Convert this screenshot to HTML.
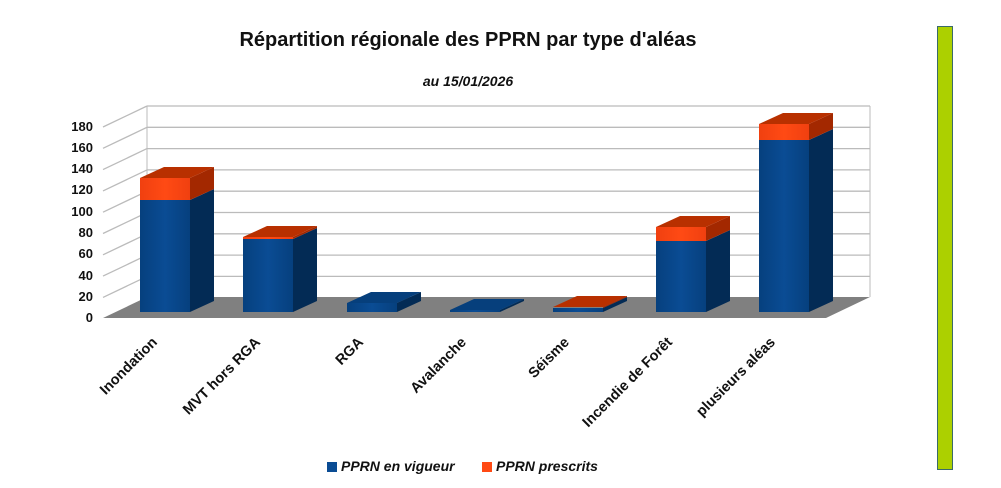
<!DOCTYPE html>
<html><head><meta charset="utf-8"><style>
html,body{margin:0;padding:0;background:#fff;}
svg{display:block;}
text{font-family:"Liberation Sans",sans-serif;font-weight:bold;fill:#111;}
</style></head><body>
<svg width="1001" height="488" viewBox="0 0 1001 488" xmlns="http://www.w3.org/2000/svg">
<defs>
<linearGradient id="bf" x1="0" x2="1" y1="0" y2="0">
<stop offset="0" stop-color="#06407e"/><stop offset="0.5" stop-color="#0a4c94"/><stop offset="1" stop-color="#06407e"/></linearGradient>
<linearGradient id="of" x1="0" x2="1" y1="0" y2="0">
<stop offset="0" stop-color="#f04010"/><stop offset="0.5" stop-color="#ff4a14"/><stop offset="1" stop-color="#f04010"/></linearGradient>
</defs>
<text x="468" y="46" font-size="20" text-anchor="middle">Répartition régionale des PPRN par type d'aléas</text>
<text x="468" y="86" font-size="14" font-style="italic" text-anchor="middle">au 15/01/2026</text>
<line x1="147" y1="106" x2="147" y2="297" stroke="#bbb"/>
<line x1="870" y1="106" x2="870" y2="297" stroke="#bbb"/>
<g stroke="#bbb" stroke-width="1.3">
<line x1="147" y1="106" x2="870" y2="106"/><line x1="103" y1="127" x2="147" y2="106"/>
<line x1="147" y1="127.3" x2="870" y2="127.3"/><line x1="103" y1="148.3" x2="147" y2="127.3"/>
<line x1="147" y1="148.6" x2="870" y2="148.6"/><line x1="103" y1="169.6" x2="147" y2="148.6"/>
<line x1="147" y1="169.9" x2="870" y2="169.9"/><line x1="103" y1="190.9" x2="147" y2="169.9"/>
<line x1="147" y1="191.2" x2="870" y2="191.2"/><line x1="103" y1="212.2" x2="147" y2="191.2"/>
<line x1="147" y1="212.5" x2="870" y2="212.5"/><line x1="103" y1="233.5" x2="147" y2="212.5"/>
<line x1="147" y1="233.8" x2="870" y2="233.8"/><line x1="103" y1="254.8" x2="147" y2="233.8"/>
<line x1="147" y1="255.1" x2="870" y2="255.1"/><line x1="103" y1="276.1" x2="147" y2="255.1"/>
<line x1="147" y1="276.4" x2="870" y2="276.4"/><line x1="103" y1="297.4" x2="147" y2="276.4"/>
</g>
<polygon points="103,318 147,297 870,297 826,318" fill="#808080"/>
<g font-size="13" text-anchor="end">
<text x="93" y="322">0</text><text x="93" y="301">20</text><text x="93" y="280">40</text>
<text x="93" y="258">60</text><text x="93" y="237">80</text><text x="93" y="216">100</text>
<text x="93" y="194">120</text><text x="93" y="173">140</text><text x="93" y="152">160</text><text x="93" y="131">180</text>
</g>
<g>
<polygon points="190,200 214,189 214,301 190,312" fill="#032b55"/>
<rect x="140" y="200" width="50" height="112" fill="url(#bf)"/>
<polygon points="190,178 214,167 214,189 190,200" fill="#a32800"/>
<rect x="140" y="178" width="50" height="22" fill="url(#of)"/>
<polygon points="140,178 164,167 214,167 190,178" fill="#b83000"/>
</g>
<g>
<polygon points="293,239 317,228 317,301 293,312" fill="#032b55"/>
<rect x="243" y="239" width="50" height="73" fill="url(#bf)"/>
<polygon points="293,237 317,226 317,228 293,239" fill="#a32800"/>
<rect x="243" y="237" width="50" height="2" fill="url(#of)"/>
<polygon points="243,237 267,226 317,226 293,237" fill="#b83000"/>
</g>
<g>
<polygon points="397,303 421,292 421,301 397,312" fill="#032b55"/>
<rect x="347" y="303" width="50" height="9" fill="url(#bf)"/>
<polygon points="347,303 371,292 421,292 397,303" fill="#063f7c"/>
</g>
<g>
<polygon points="500,310 524,299 524,301 500,312" fill="#032b55"/>
<rect x="450" y="310" width="50" height="2" fill="url(#bf)"/>
<polygon points="450,310 474,299 524,299 500,310" fill="#063f7c"/>
</g>
<g>
<polygon points="603,308 627,297 627,301 603,312" fill="#032b55"/>
<rect x="553" y="308" width="50" height="4" fill="url(#bf)"/>
<polygon points="603,307 627,296 627,297 603,308" fill="#a32800"/>
<polygon points="553,307 577,296 627,296 603,307" fill="#b83000"/>
</g>
<g>
<polygon points="706,241 730,230 730,301 706,312" fill="#032b55"/>
<rect x="656" y="241" width="50" height="71" fill="url(#bf)"/>
<polygon points="706,227 730,216 730,230 706,241" fill="#a32800"/>
<rect x="656" y="227" width="50" height="14" fill="url(#of)"/>
<polygon points="656,227 680,216 730,216 706,227" fill="#b83000"/>
</g>
<g>
<polygon points="809,140 833,129 833,301 809,312" fill="#032b55"/>
<rect x="759" y="140" width="50" height="172" fill="url(#bf)"/>
<polygon points="809,124 833,113 833,129 809,140" fill="#a32800"/>
<rect x="759" y="124" width="50" height="16" fill="url(#of)"/>
<polygon points="759,124 783,113 833,113 809,124" fill="#b83000"/>
</g>
<g font-size="14.5" text-anchor="end">
<text transform="translate(158,343) rotate(-45)">Inondation</text>
<text transform="translate(261,343) rotate(-45)">MVT hors RGA</text>
<text transform="translate(364,343) rotate(-45)">RGA</text>
<text transform="translate(467,343) rotate(-45)">Avalanche</text>
<text transform="translate(570,343) rotate(-45)">Séisme</text>
<text transform="translate(673,343) rotate(-45)">Incendie de Forêt</text>
<text transform="translate(776,343) rotate(-45)">plusieurs aléas</text>
</g>
<rect x="327" y="462" width="10" height="10" fill="#0a4c94"/>
<text x="341" y="471" font-size="14" font-style="italic">PPRN en vigueur</text>
<rect x="482" y="462" width="10" height="10" fill="#ff4a14"/>
<text x="496" y="471" font-size="14" font-style="italic">PPRN prescrits</text>
<rect x="937.5" y="26.5" width="15" height="443" fill="#acd000" stroke="#3a6a6a" stroke-width="1"/>
</svg>
</body></html>
